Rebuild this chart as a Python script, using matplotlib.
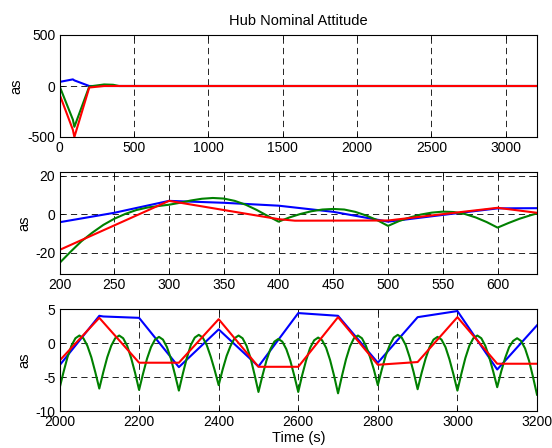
import matplotlib
matplotlib.use("Agg")
import matplotlib.pyplot as plt
import numpy as np

plt.rcParams["font.family"] = ["Liberation Sans", "DejaVu Sans"]
plt.rcParams["axes.unicode_minus"] = False
plt.rcParams["lines.scale_dashes"] = False

# --------------------------------------------------------
# Data (arcsec)
# --------------------------------------------------------

# full run, 0 .. 3200 s
top_t = [0, 90, 100, 200, 300, 360, 400, 3210]
top_blue = [40, 65, 55, 0, 0, 0, 0, 0]
top_green = [0, -330, -400, -5, 15, 12, 0, 0]
top_red = [-80, -430, -500, -15, 0, 0, 0, 0]

# zoom 200 .. 636 s
mid_blue_t = [200, 250, 300, 350, 400, 450, 500, 550, 600, 636]
mid_blue = [-4.1, 0.8, 7.0, 6.0, 4.5, 1.3, -3.8, -0.3, 3.1, 3.2]

mid_red_t = [200, 300, 400, 415, 500, 600, 636]
mid_red = [-18.5, 7.0, -2.5, -3.3, -3.2, 3.4, 0.8]

mid_green_t = [200, 210, 220, 230, 240, 250, 260, 270, 280, 290,
               300, 310, 320, 330, 340, 350, 360, 370, 380, 390,
               400, 410, 420, 430, 440, 450, 460, 470, 480, 490,
               500, 510, 520, 530, 540, 550, 560, 570, 580, 590,
               600, 610, 620, 630, 636]
mid_green = [-25.3, -19.5, -14.0, -9.5, -5.5, -2.3, 0.2, 2.2, 3.5, 4.3,
             5.0, 6.0, 7.2, 8.1, 8.5, 8.2, 7.0, 5.0, 2.3, -0.8,
             -3.8, -1.6, 0.2, 1.6, 2.5, 2.8, 2.5, 1.3, -0.6, -3.0,
             -6.0, -3.5, -1.6, -0.1, 0.9, 1.4, 1.2, 0.2, -1.6, -4.0,
             -6.9, -4.5, -2.3, -0.5, 0.5]

# zoom 2000 .. 3200 s
low_blue_t = [2000, 2100, 2110, 2200, 2300, 2400, 2500, 2600, 2700,
              2800, 2900, 3000, 3100, 3200]
low_blue = [-3.3, 4.0, 3.9, 3.7, -3.55, 2.0, -3.45, 4.4, 4.0,
            -2.9, 3.8, 4.7, -3.9, 2.6]

low_red_t = [2000, 2100, 2200, 2300, 2400, 2500, 2600, 2700, 2800,
             2900, 3000, 3100, 3200]
low_red = [-2.6, 3.7, -2.9, -2.9, 3.5, -3.5, -3.5, 3.8, -3.2,
           -2.8, 3.8, -3.05, -3.05]

low_green_t = np.arange(2000, 3201, 10)
low_green = [
    -6.7, -4.3, -2.1, -0.4, 0.7, 1.1, 0.7, -0.4, -2.1, -4.3,
    -6.7, -4.3, -2.1, -0.4, 0.7, 1.1, 0.7, -0.4, -2.2, -4.4,
    -6.9, -4.5, -2.3, -0.6, 0.5, 0.9, 0.5, -0.6, -2.3, -4.6,
    -7.0, -4.5, -2.2, -0.3, 0.8, 1.2, 0.8, -0.3, -2.0, -4.0,
    -6.2, -3.9, -1.9, -0.4, 0.7, 1.1, 0.7, -0.4, -2.2, -4.6,
    -7.2, -4.8, -2.6, -0.9, 0.2, 0.6, 0.2, -0.9, -2.6, -4.8,
    -7.2, -4.7, -2.5, -0.7, 0.4, 0.8, 0.4, -0.7, -2.5, -4.8,
    -7.4, -4.8, -2.4, -0.5, 0.7, 1.1, 0.7, -0.4, -2.0, -3.9,
    -6.2, -3.9, -1.8, -0.3, 0.8, 1.2, 0.8, -0.3, -2.1, -4.3,
    -6.8, -4.4, -2.3, -0.6, 0.5, 0.9, 0.5, -0.6, -2.4, -4.6,
    -7.0, -4.5, -2.2, -0.4, 0.7, 1.1, 0.7, -0.4, -2.1, -4.2,
    -6.5, -4.2, -2.2, -0.6, 0.3, 0.7, 0.3, -0.8, -2.6, -5.0,
    -7.6,
]

BLUE = (0, 0, 1)
GREEN = (0, 0.5, 0)
RED = (1, 0, 0)
LW = 1.5


def style_axes(ax):

    ax.grid(True, color="black", linestyle=(0, (4.5, 3)), linewidth=0.6)

    ax.tick_params(direction="in", top=True, right=True, length=3,
                   width=0.6, labelsize=10, pad=3)

    for s in ax.spines.values():
        s.set_linewidth(0.8)

    ax.set_ylabel("as", fontsize=10.5, labelpad=3)


fig = plt.figure(figsize=(5.52, 4.48), dpi=100)

left = 59.5 / 552
width = 477.5 / 552
height = 102 / 448

ax1 = fig.add_axes([left, 1 - 137 / 448, width, height])
ax2 = fig.add_axes([left, 1 - 274 / 448, width, height])
ax3 = fig.add_axes([left, 1 - 411 / 448, width, height])

# --------------------------------------------------------
# Top: whole run
# --------------------------------------------------------

ax1.plot(top_t, top_blue, color=BLUE, lw=LW)
ax1.plot(top_t, top_green, color=GREEN, lw=LW)
ax1.plot(top_t, top_red, color=RED, lw=LW)
ax1.set_xlim(0, 3210)
ax1.set_ylim(-500, 500)
ax1.set_xticks([0, 500, 1000, 1500, 2000, 2500, 3000])
ax1.set_yticks([-500, 0, 500])
ax1.set_title("Hub Nominal Attitude", fontsize=10.5, pad=7)
style_axes(ax1)

# --------------------------------------------------------
# Middle: settling
# --------------------------------------------------------

ax2.plot(mid_blue_t, mid_blue, color=BLUE, lw=LW)
ax2.plot(mid_green_t, mid_green, color=GREEN, lw=LW)
ax2.plot(mid_red_t, mid_red, color=RED, lw=LW)
ax2.set_xlim(200, 636)
ax2.set_ylim(-31, 22)
ax2.set_xticks([200, 250, 300, 350, 400, 450, 500, 550, 600])
ax2.set_yticks([-20, 0, 20])
style_axes(ax2)

# --------------------------------------------------------
# Bottom: steady state
# --------------------------------------------------------

ax3.plot(low_blue_t, low_blue, color=BLUE, lw=LW)
ax3.plot(low_green_t, low_green, color=GREEN, lw=LW)
ax3.plot(low_red_t, low_red, color=RED, lw=LW)
ax3.set_xlim(2000, 3200)
ax3.set_ylim(-10, 5)
ax3.set_xticks([2000, 2200, 2400, 2600, 2800, 3000, 3200])
ax3.set_yticks([-10, -5, 0, 5])
ax3.set_xlabel("Time (s)", fontsize=10.5, labelpad=1)
style_axes(ax3)

fig.savefig("out.png", dpi=100)
